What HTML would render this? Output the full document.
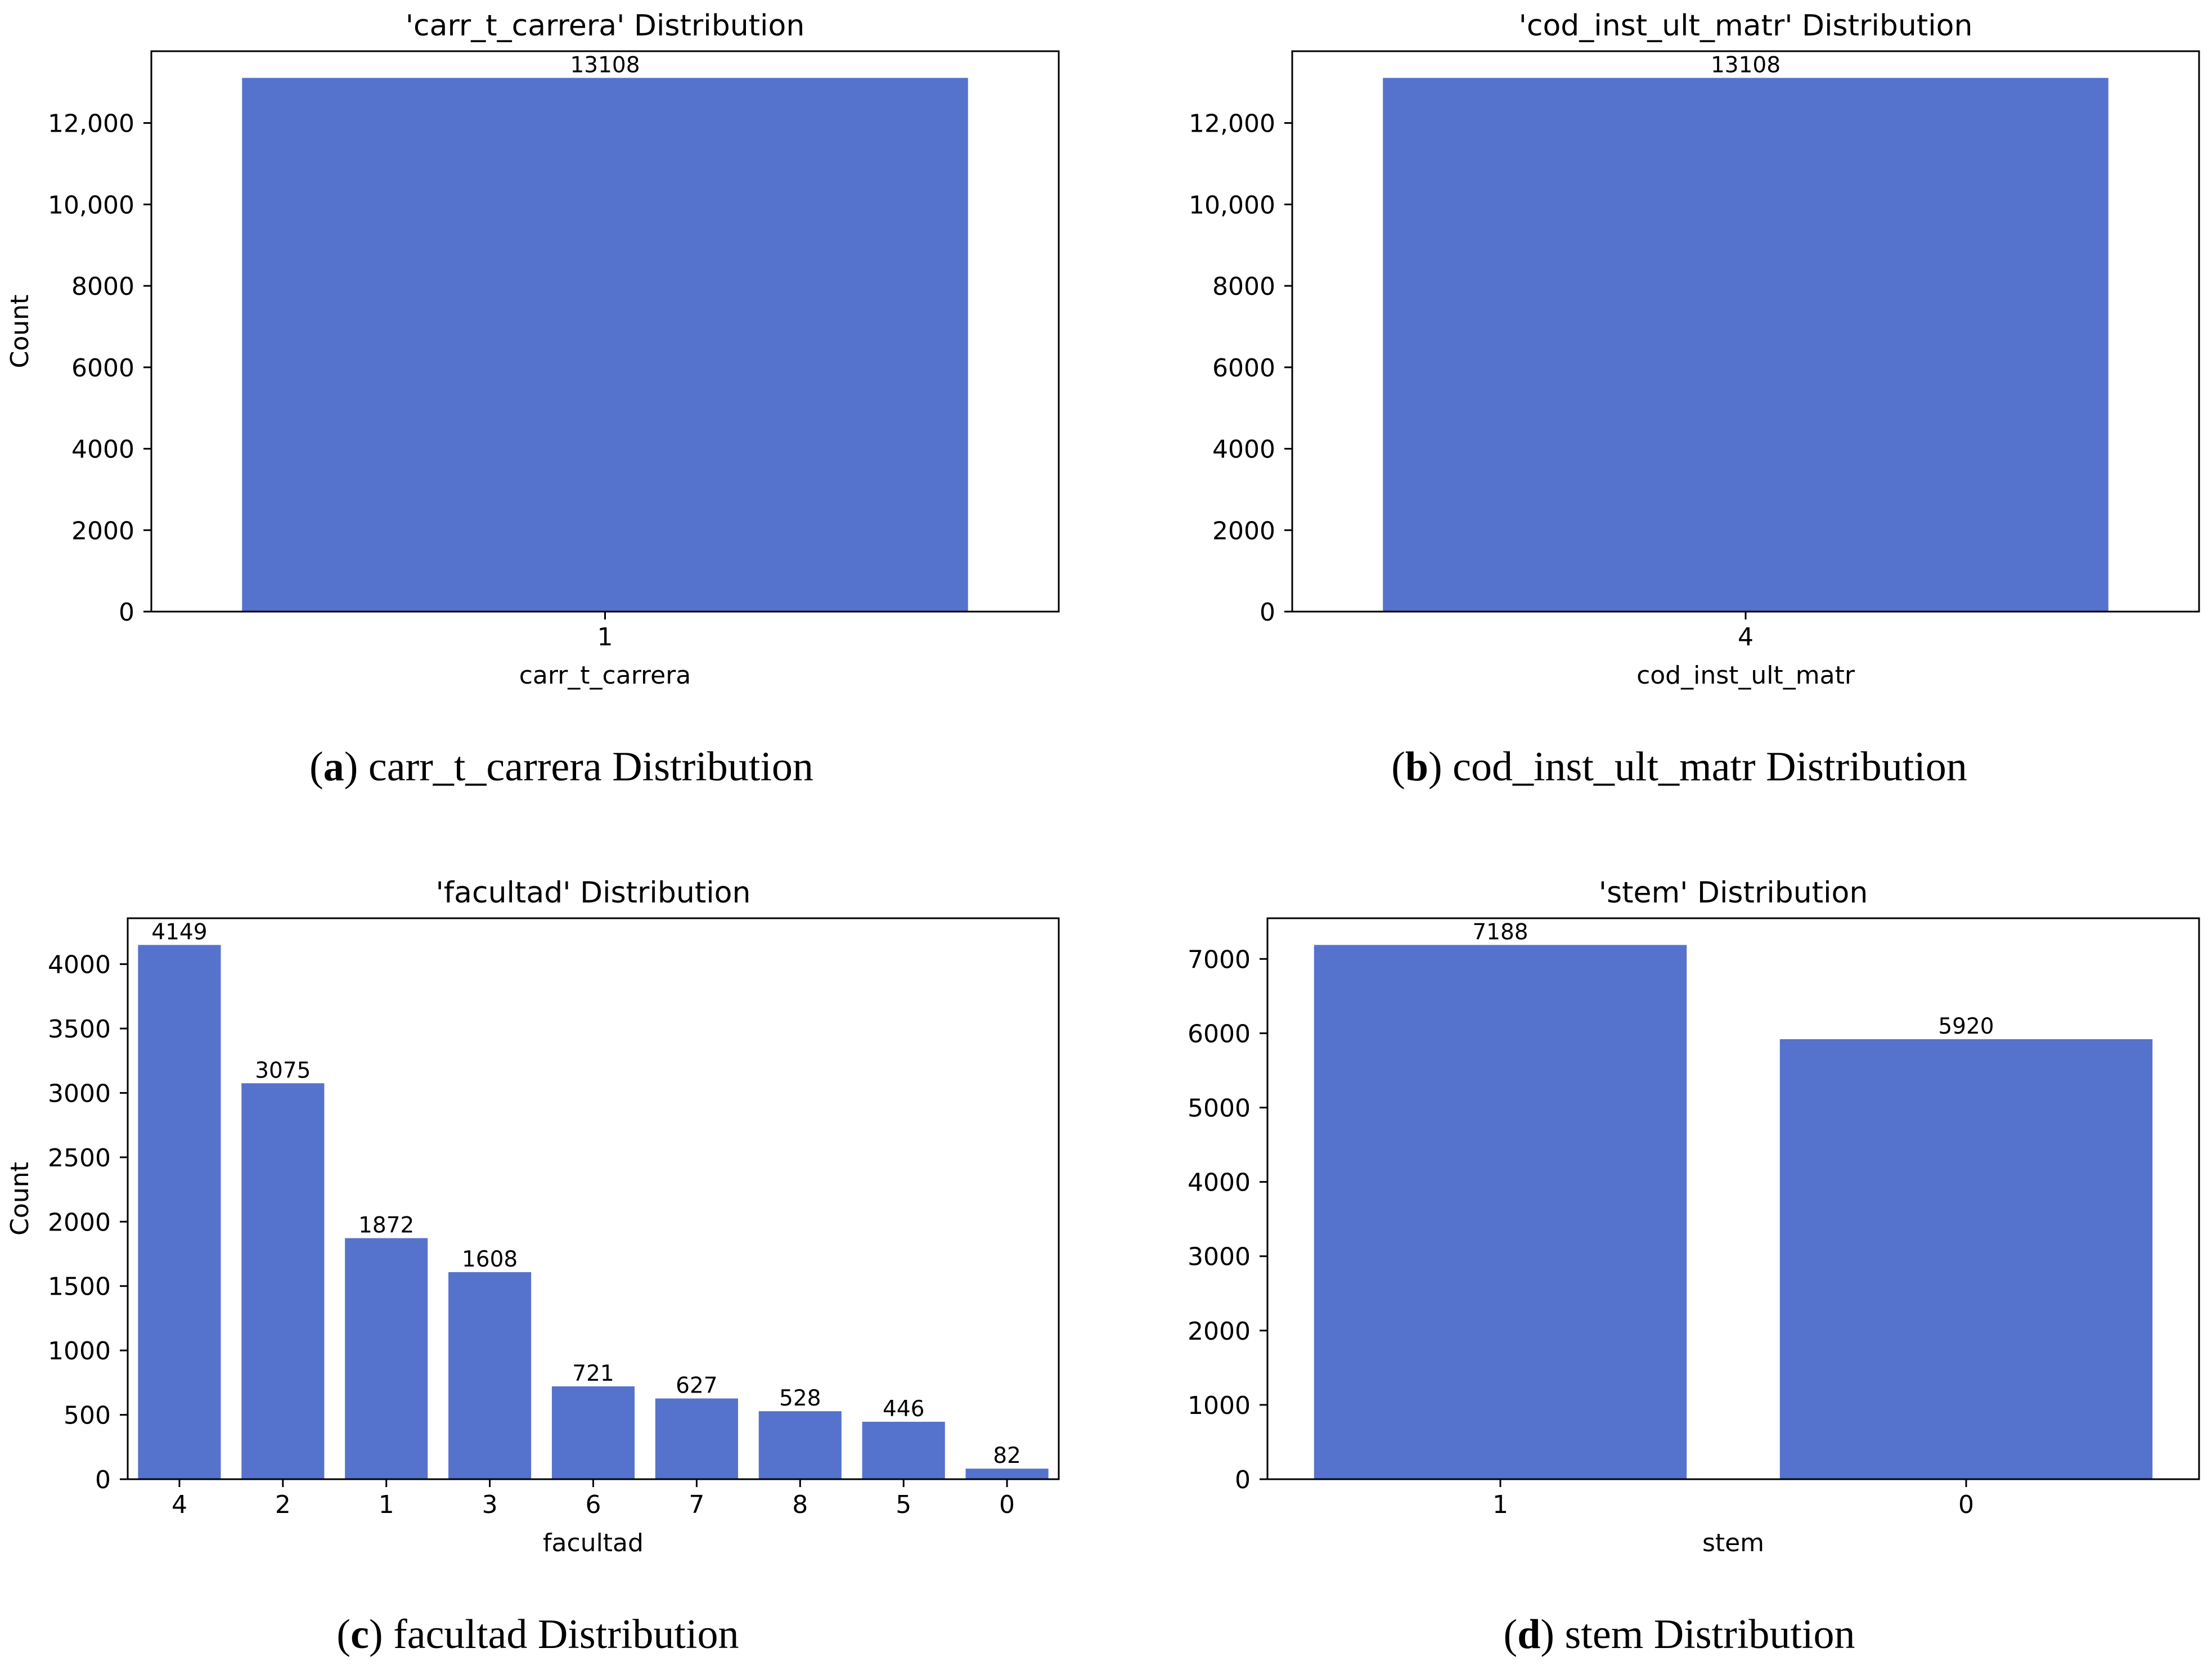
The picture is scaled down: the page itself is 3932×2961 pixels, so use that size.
<!DOCTYPE html>
<html><head><meta charset="utf-8">
<style>
html,body{margin:0;padding:0;background:#fff;}
svg{display:block;}
text{font-family:"DejaVu Sans","Liberation Sans",sans-serif;fill:#000;}
.cap{font-family:"Liberation Serif","DejaVu Serif",serif;}
</style></head>
<body>
<svg id="fig" width="3932" height="2961" viewBox="0 0 3932 2961" xmlns="http://www.w3.org/2000/svg"></svg>
<script>
// ---- data ----
const catsA = ["1"];
const valsA = [13108];
const ticksA = [0, 2000, 4000, 6000, 8000, 10000, 12000];
const tickLabelsA = ["0", "2000", "4000", "6000", "8000", "10,000", "12,000"];

const catsB = ["4"];
const valsB = [13108];
const ticksB = [0, 2000, 4000, 6000, 8000, 10000, 12000];
const tickLabelsB = ["0", "2000", "4000", "6000", "8000", "10,000", "12,000"];

const catsC = ["4", "2", "1", "3", "6", "7", "8", "5", "0"];
const valsC = [4149, 3075, 1872, 1608, 721, 627, 528, 446, 82];
const ticksC = [0, 500, 1000, 1500, 2000, 2500, 3000, 3500, 4000];
const tickLabelsC = ["0", "500", "1000", "1500", "2000", "2500", "3000", "3500", "4000"];

const catsD = ["1", "0"];
const valsD = [7188, 5920];
const ticksD = [0, 1000, 2000, 3000, 4000, 5000, 6000, 7000];
const tickLabelsD = ["0", "1000", "2000", "3000", "4000", "5000", "6000", "7000"];

const NS = "http://www.w3.org/2000/svg";
const svg = document.getElementById("fig");
function mk(tag, attrs, parent, txt) {
  const e = document.createElementNS(NS, tag);
  for (const k in attrs) e.setAttribute(k, attrs[k]);
  if (txt !== undefined) e.textContent = txt;
  (parent || svg).appendChild(e);
  return e;
}

function panel(id, box, cats, vals, ticks, tickLabels, title, xlabel, capLetter, capText, capX, capY) {
  const g = mk("g", {});
  
  
  const L = box[0], R = box[1], T = box[2], B = box[3];
  const ymax = Math.max(...vals) * 1.05;
  const yS = v => B - v / ymax * (B - T);
  const slot = (R - L) / cats.length;
  const xC = i => L + slot * (i + 0.5);
  const bw = slot * 0.8;

  cats.forEach((c, i) => {
    const r = mk("rect", {x: xC(i) - bw / 2, y: yS(vals[i]), width: bw, height: B - yS(vals[i]), fill: "#5573cc"}, g);
    
    
    const t = mk("text", {x: xC(i), y: yS(vals[i]) - 10, "font-size": 39, "text-anchor": "middle"}, g, String(vals[i]));
    
    
    mk("line", {x1: xC(i), x2: xC(i), y1: B, y2: B + 14, stroke: "#000", "stroke-width": 3}, g);
    const xt = mk("text", {x: xC(i), y: B + 60, "font-size": 44, "text-anchor": "middle"}, g, c);
    
    
  });

  ticks.forEach((v, i) => {
    mk("line", {x1: L - 14, x2: L, y1: yS(v), y2: yS(v), stroke: "#000", "stroke-width": 3}, g);
    const yt = mk("text", {x: L - 30, y: yS(v) + 16, "font-size": 44, "text-anchor": "end"}, g, tickLabels[i]);
    
    
  });

  const fr = mk("rect", {x: L, y: T, width: R - L, height: B - T, fill: "none", stroke: "#000", "stroke-width": 3}, g);
  
  

  const tt = mk("text", {x: (L + R) / 2, y: T - 28, "font-size": 52, "text-anchor": "middle"}, g, title);
  
  

  const xl = mk("text", {x: (L + R) / 2, y: B + 128, "font-size": 44, "text-anchor": "middle"}, g, xlabel);
  
  

  const yc = (T + B) / 2;
  const yl = mk("text", {x: 0, y: 0, "font-size": 44, "text-anchor": "middle", transform: "translate(50," + yc + ") rotate(-90)"}, g, "Count");
  
  

  const cp = mk("text", {x: capX, y: capY, "font-size": 74, "text-anchor": "middle", class: "cap"}, g);
  
  
  mk("tspan", {}, cp, "(");
  mk("tspan", {"font-weight": "bold"}, cp, capLetter);
  mk("tspan", {}, cp, ") " + capText);
}

panel("a", [269, 1882, 91, 1087], catsA, valsA, ticksA, tickLabelsA, "'carr_t_carrera' Distribution", "carr_t_carrera", "a", "carr_t_carrera Distribution", 998, 1387);
panel("b", [2297, 3909, 91, 1087], catsB, valsB, ticksB, tickLabelsB, "'cod_inst_ult_matr' Distribution", "cod_inst_ult_matr", "b", "cod_inst_ult_matr Distribution", 2985, 1387);
panel("c", [227, 1882, 1632, 2629], catsC, valsC, ticksC, tickLabelsC, "'facultad' Distribution", "facultad", "c", "facultad Distribution", 956, 2929);
panel("d", [2253, 3909, 1632, 2629], catsD, valsD, ticksD, tickLabelsD, "'stem' Distribution", "stem", "d", "stem Distribution", 2985, 2929);
</script>
</body></html>
